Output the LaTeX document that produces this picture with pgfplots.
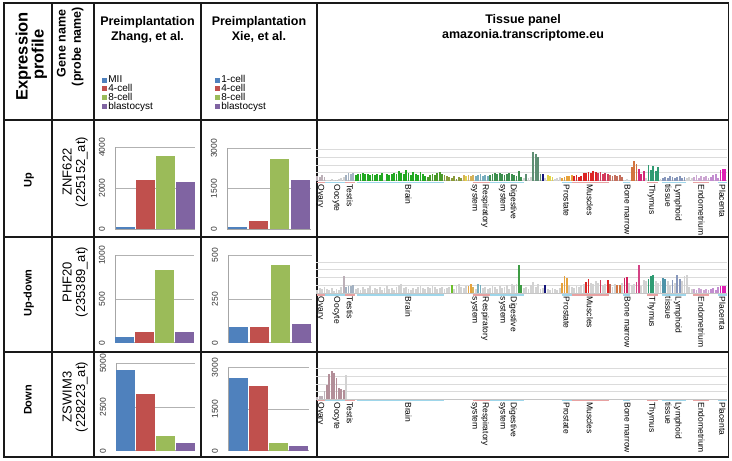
\documentclass[border=0pt]{standalone}
\usepackage{pgfplots}
\pgfplotsset{compat=1.18}
\usepackage{fontspec}
\setmainfont{Liberation Sans}

% bar chart colours (Excel 2007)
\definecolor{zblue}{HTML}{4F81BD}
\definecolor{zred}{HTML}{C0504D}
\definecolor{zgreen}{HTML}{9BBB59}
\definecolor{zpurple}{HTML}{8064A2}
% tissue panel colours
\definecolor{mv}{HTML}{BCB0B8}
\definecolor{lg}{HTML}{D2D2D2}
\definecolor{gb}{HTML}{A4B2C2}
\definecolor{tgreen}{HTML}{22A822}
\definecolor{dgreen}{HTML}{4A9A2A}
\definecolor{olive}{HTML}{8A9A3A}
\definecolor{tan}{HTML}{D6B25A}
\definecolor{tyellow}{HTML}{E2D44A}
\definecolor{teal}{HTML}{78AEBE}
\definecolor{dig}{HTML}{3D8F4E}
\definecolor{sea}{HTML}{5F8F74}
\definecolor{navy}{HTML}{14147A}
\definecolor{orng}{HTML}{E6A23C}
\definecolor{tred}{HTML}{DC2424}
\definecolor{crimson}{HTML}{D23A5A}
\definecolor{brown}{HTML}{C5705E}
\definecolor{obrown}{HTML}{D2743F}
\definecolor{mag}{HTML}{D42A78}
\definecolor{thymus}{HTML}{2F9B72}
\definecolor{lymph}{HTML}{8797BB}
\definecolor{endo}{HTML}{CCA6D2}
\definecolor{lav}{HTML}{C28DD0}
\definecolor{plac}{HTML}{DE1FB4}
\definecolor{lgreen}{HTML}{6CBF2A}
\definecolor{dgtwo}{HTML}{3E9C44}
\definecolor{magtwo}{HTML}{D2205E}
\definecolor{pink}{HTML}{D44385}
\definecolor{tealblue}{HTML}{4E93A8}
\definecolor{oc}{HTML}{B38F99}
\definecolor{tpk}{HTML}{E8A2A2}
\definecolor{tbl}{HTML}{9ED6EA}

\newcommand\hdr{\fontsize{12.5}{14}\selectfont\bfseries}
\newcommand\expf{\fontsize{16.5}{18}\selectfont\bfseries}
\newcommand\rowf{\fontsize{11}{13}\selectfont\bfseries}
\newcommand\genef{\fontsize{13}{15}\selectfont}
\newcommand\tlf{\fontsize{8.5}{10.3}\selectfont}
\newcommand\lgf{\fontsize{10}{11}\selectfont}
\newcommand\tkf{\fontsize{8.5}{9}\selectfont}

\pgfplotsset{
  small/.style={scale only axis, anchor=south west, ybar,
    xmin=-0.5, xmax=3.5, ymin=0, enlargelimits=false, xtick=\empty,
    axis lines*=left, axis line style={gray!70, line width=0.7pt},
    ymajorgrids, major grid style={gray!60, line width=0.7pt},
    major tick length=0pt,
    yticklabel style={rotate=90, anchor=south, font=\tkf, text=black!80, inner ysep=10pt, outer sep=0pt},
    /pgf/number format/assume math mode=true,
    /pgf/number format/1000 sep={}},
  sb/.style={fill=#1, draw=none, bar width=0.95, bar shift=0pt},
  tissue/.style={scale only axis, anchor=south west, width=411pt, height=31pt,
    xmin=-0.55, xmax=170.7, ymin=0, ymax=31, enlargelimits=false,
    xtick=\empty, ytick={7.75,15.5,23.25,31}, yticklabels={},
    ymajorgrids, major grid style={gray!28, line width=0.6pt},
    axis lines*=left, x axis line style={gray!45, line width=0.5pt},
    y axis line style={draw=none}, major tick length=0pt},
  tb/.style={ycomb, line width=1.75pt, color=#1},
  lgd/.style={scale only axis, anchor=north west, width=5pt, height=5pt, hide axis,
    xmin=0, xmax=1, ymin=0, ymax=1,
    legend style={at={(0,1)}, anchor=north west, draw=none, fill=none,
      inner sep=0pt, outer sep=0pt, font=\lgf, column sep=1.4pt,
      nodes={inner sep=0pt, text height=6.6pt, text depth=2.2pt}},
    legend cell align=left,
    legend image code/.code={\fill[##1] (0pt,-2.1pt) rectangle (5pt,2.9pt);}},
}

\tikzset{tl/.style={rotate=-90, anchor=west, inner sep=0.5pt, font=\tlf, align=left}}

\newcommand\tlabels[1]{%
\begin{scope}[shift={(0,#1)}]
  \draw[tpk, line width=1.4pt] (316.5,0) -- (325,0);
  \draw[tbl, line width=1.4pt] (325,0) -- (345,0);
  \draw[tpk, line width=1.4pt] (345,0) -- (355,0);
  \draw[tbl, line width=1.4pt] (356.5,0) -- (443.5,0);
  \draw[tpk, line width=1.4pt] (472.5,0) -- (490,0);
  \draw[tbl, line width=1.4pt] (490,0) -- (523.5,0);
  \draw[tbl, line width=1.4pt] (561.5,0) -- (571.5,0);
  \draw[tpk, line width=1.4pt] (571.5,0) -- (608.5,0);
  \draw[tbl, line width=1.4pt] (623,0) -- (630,0);
  \draw[tpk, line width=1.4pt] (647,0) -- (658,0);
  \draw[tbl, line width=1.4pt] (661.5,0) -- (686,0);
  \draw[tpk, line width=1.4pt] (693,0) -- (708.5,0);
  \draw[tbl, line width=1.4pt] (718,0) -- (727,0);
  \node[tl] at (320.5,1.2) {Ovary};
  \node[tl] at (336.5,1.2) {Oocyte};
  \node[tl] at (350,1.2) {Testis};
  \node[tl] at (408.5,1.2) {Brain};
  \node[tl] at (480,1.2) {Respiratory\\system};
  \node[tl] at (508,1.2) {Digestive\\system};
  \node[tl] at (566.5,1.2) {Prostate};
  \node[tl] at (590,1.2) {Muscles};
  \node[tl] at (627.5,1.2) {Bone marrow};
  \node[tl] at (651.5,1.2) {Thymus};
  \node[tl] at (673.5,1.2) {Lymphoid\\tissue};
  \node[tl] at (701.5,1.2) {Endometrium};
  \node[tl] at (722.5,1.2) {Placenta};
\end{scope}}

\begin{document}
\begin{tikzpicture}
\begin{scope}[x=1pt, y=-1pt]
  \path[use as bounding box] (0,0) rectangle (732,461);
  % table grid
  \draw[black!90, line width=1.2pt] (4,3) rectangle (728.5,457);
  \foreach \xx in {52,94,201,317} \draw[black!90, line width=1.2pt] (\xx,3) -- (\xx,457);
  \foreach \yy in {120,237,352} \draw[black!90, line width=1.2pt] (4,\yy) -- (728.5,\yy);
  % header
  \node[rotate=90, anchor=base, font=\expf] at (27.5,56.5) {Expression};
  \node[rotate=90, anchor=base, font=\expf] at (43.5,54.5) {profile};
  \node[rotate=90, anchor=base, font=\hdr] at (65.7,43.5) {Gene name};
  \node[rotate=90, anchor=base, font=\hdr] at (80.8,46.5) {(probe name)};
  \node[anchor=base, font=\hdr] at (147.5,25.5) {Preimplantation};
  \node[anchor=base, font=\hdr] at (147.5,40) {Zhang, et al.};
  \node[anchor=base, font=\hdr] at (259,25.5) {Preimplantation};
  \node[anchor=base, font=\hdr] at (259,40) {Xie, et al.};
  \node[anchor=base, font=\hdr] at (523,23.3) {Tissue panel};
  \node[anchor=base, font=\hdr] at (523,38.3) {amazonia.transcriptome.eu};
  % row labels
  \node[rotate=90, anchor=base, font=\rowf] at (31.5,180) {Up};
  \node[rotate=90, anchor=base, font=\rowf] at (31.5,293) {Up-down};
  \node[rotate=90, anchor=base, font=\rowf] at (31.5,400) {Down};
  \node[rotate=90, anchor=base, font=\genef] at (71.5,172) {ZNF622};
  \node[rotate=90, anchor=base, font=\genef] at (85,172) {(225152\_at)};
  \node[rotate=90, anchor=base, font=\genef] at (71.5,282) {PHF20};
  \node[rotate=90, anchor=base, font=\genef] at (85,282) {(235389\_at)};
  \node[rotate=90, anchor=base, font=\genef] at (71.5,397) {ZSWIM3};
  \node[rotate=90, anchor=base, font=\genef] at (85,397) {(228223\_at)};
  % tissue group labels
  \tlabels{182.7}
  \tlabels{295}
  \tlabels{400.5}
\end{scope}

% legends
\begin{axis}[lgd, at={(102pt,-76pt)}]
  \addlegendimage{fill=zblue, draw=none}\addlegendentry{MII}
  \addlegendimage{fill=zred, draw=none}\addlegendentry{4-cell}
  \addlegendimage{fill=zgreen, draw=none}\addlegendentry{8-cell}
  \addlegendimage{fill=zpurple, draw=none}\addlegendentry{blastocyst}
\end{axis}
\begin{axis}[lgd, at={(215pt,-76pt)}]
  \addlegendimage{fill=zblue, draw=none}\addlegendentry{1-cell}
  \addlegendimage{fill=zred, draw=none}\addlegendentry{4-cell}
  \addlegendimage{fill=zgreen, draw=none}\addlegendentry{8-cell}
  \addlegendimage{fill=zpurple, draw=none}\addlegendentry{blastocyst}
\end{axis}

% ---- Zhang et al.
\begin{axis}[small, at={(115pt,-229pt)}, width=80pt, height=81.7pt, ymax=4000, ytick={0,2000,4000}]
  \addplot[sb=zblue] coordinates {(0,120)};
  \addplot[sb=zred] coordinates {(1,2400)};
  \addplot[sb=zgreen] coordinates {(2,3550)};
  \addplot[sb=zpurple] coordinates {(3,2280)};
\end{axis}
\begin{axis}[small, at={(115pt,-342.7pt)}, width=79pt, height=87.4pt, ymax=1000, ytick={0,500,1000}]
  \addplot[sb=zblue] coordinates {(0,70)};
  \addplot[sb=zred] coordinates {(1,122)};
  \addplot[sb=zgreen] coordinates {(2,832)};
  \addplot[sb=zpurple] coordinates {(3,122)};
\end{axis}
\begin{axis}[small, at={(116pt,-450.7pt)}, width=79pt, height=87.4pt, ymax=5000, ytick={0,2500,5000}]
  \addplot[sb=zblue] coordinates {(0,4625)};
  \addplot[sb=zred] coordinates {(1,3260)};
  \addplot[sb=zgreen] coordinates {(2,835)};
  \addplot[sb=zpurple] coordinates {(3,420)};
\end{axis}

% ---- Xie et al.
\begin{axis}[small, at={(227pt,-229pt)}, width=84pt, height=80.7pt, ymax=3000, ytick={0,1500,3000}]
  \addplot[sb=zblue] coordinates {(0,85)};
  \addplot[sb=zred] coordinates {(1,300)};
  \addplot[sb=zgreen] coordinates {(2,2600)};
  \addplot[sb=zpurple] coordinates {(3,1815)};
\end{axis}
\begin{axis}[small, at={(228pt,-342.7pt)}, width=84pt, height=87.4pt, ymax=500, ytick={0,250,500}]
  \addplot[sb=zblue] coordinates {(0,91)};
  \addplot[sb=zred] coordinates {(1,91)};
  \addplot[sb=zgreen] coordinates {(2,443)};
  \addplot[sb=zpurple] coordinates {(3,105)};
\end{axis}
\begin{axis}[small, at={(228pt,-450.7pt)}, width=81pt, height=83pt, ymax=3000, ytick={0,1500,3000}]
  \addplot[sb=zblue] coordinates {(0,2625)};
  \addplot[sb=zred] coordinates {(1,2340)};
  \addplot[sb=zgreen] coordinates {(2,266)};
  \addplot[sb=zpurple] coordinates {(3,170)};
\end{axis}

% ---- tissue panel, ZNF622
\begin{axis}[tissue, at={(316pt,-180.5pt)}]
  \addplot[tb=mv] coordinates {(0,5)(1,4)(2,6)(3,4)};
  \addplot[tb=lg] coordinates {(4,1)(5,1)(6,2)(7,1)(8,1)(9,2)(10,3)(11,4)(86,3)(88,3)(89,4)(95,3)(99,2)(100,3)(101,4)(128,1)(129,2)(130,1)(137,3)(143,2)(154,3)(155,4)(156,3)};
  \addplot[tb=gb] coordinates {(12,6)(13,8)(14,7)(15,8)};
  \addplot[tb=tgreen] coordinates {(16,6)(17,7)(18,7)(19,8)(20,7)(21,7)(22,6)(23,7)(24,6)(25,7)(26,6)(27,8)(29,7)(30,6)(31,7)(32,8)(33,7)(34,10)(35,8)(36,7)(37,11)(38,8)(39,6)(40,9)(41,7)(42,6)(43,9)(44,7)(45,5)};
  \addplot[tb=dgreen] coordinates {(46,4)(47,6)(48,7)(49,6)(50,8)(51,9)(52,7)};
  \addplot[tb=olive] coordinates {(53,6)(54,5)(55,4)(56,3)(57,5)(58,2)(59,4)(60,3)};
  \addplot[tb=tan] coordinates {(61,6)(63,6)(64,5)(65,6)};
  \addplot[tb=tyellow] coordinates {(62,5)(96,6)(97,5)(98,4)};
  \addplot[tb=teal] coordinates {(66,5)(67,6)(68,7)(69,5)(70,6)(71,5)};
  \addplot[tb=dig] coordinates {(72,6)(73,7)(74,8)(75,7)(76,8)(77,7)(78,6)(79,7)(80,8)(81,7)(82,6)(83,5)(84,10)(85,4)};
  \addplot[tb=sea] coordinates {(87,7)(90,29)(91,27)(92,24)(93,7)};
  \addplot[tb=navy] coordinates {(94,7)};
  \addplot[tb=orng] coordinates {(102,3)(103,4)(104,5)(105,5)(106,6)};
  \addplot[tb=tred] coordinates {(107,5)(108,6)(109,4)(110,5)(111,8)(112,8)(113,9)(114,8)(115,10)(116,9)};
  \addplot[tb=crimson] coordinates {(117,8)(118,9)(119,7)(120,8)(121,7)};
  \addplot[tb=brown] coordinates {(122,6)(123,5)(124,6)(125,5)(126,6)(127,4)};
  \addplot[tb=obrown] coordinates {(131,14)(132,20)(133,17)};
  \addplot[tb=mag] coordinates {(134,12)(135,7)(136,10)};
  \addplot[tb=thymus] coordinates {(138,16)(139,11)(140,15)(141,10)(142,14)};
  \addplot[tb=lymph] coordinates {(144,3)(145,4)(146,3)(147,5)(148,4)(149,3)(150,4)(151,5)(152,3)(153,4)};
  \addplot[tb=endo] coordinates {(157,4)(158,6)(159,3)(160,5)(161,4)(162,5)(163,3)};
  \addplot[tb=lav] coordinates {(164,4)(165,6)(166,7)(167,3)};
  \addplot[tb=plac] coordinates {(168,11)(169,12)(170,12)};
\end{axis}

% ---- tissue panel, PHF20
\begin{axis}[tissue, at={(316pt,-293pt)}]
  \addplot[tb=lg] coordinates {(0,3)(1,5)(2,4)(3,6)(4,4)(5,3)(6,5)(7,2)(8,4)(9,3)(10,6)
    (16,4)(17,5)(18,3)(19,6)(20,4)(21,5)(22,7)(23,3)(24,5)(25,4)(26,6)(27,3)(28,5)(29,7)(30,4)(31,5)(32,3)(33,6)(34,8)(35,9)(36,5)(37,6)(38,4)(39,3)(40,5)(41,4)(42,6)(43,7)(44,5)(45,4)(46,6)(47,5)(48,7)(49,6)(50,4)(51,5)(52,6)
    (53,4)(54,5)(55,6)(57,4)(58,7)(59,9)(60,6)(61,5)(62,7)(66,4)(69,5)(70,6)(71,4)(72,5)(73,7)(74,6)(75,4)(76,7)(77,5)(78,6)(79,8)(80,4)(81,9)(82,8)(83,9)
    (86,5)(87,6)(88,4)(89,8)(90,11)(91,6)(92,9)(93,4)(94,5)(96,4)(97,3)(98,5)(99,4)(100,3)(101,5)(105,8)(106,6)(107,5)(108,7)(109,6)(110,8)(111,9)
    (114,10)(115,9)(116,12)(117,10)(119,8)(120,9)(123,6)(124,9)(127,10)(130,10)(131,8)(132,9)(135,7)(136,13)(137,12)(141,12)(142,10)(143,12)
    (146,12)(147,8)(149,10)(152,12)(153,17)(154,18)(155,6)(156,4)};
  \addplot[tb=mv] coordinates {(11,17)};
  \addplot[tb=gb] coordinates {(12,6)(13,7)(14,7)(15,8)};
  \addplot[tb=lgreen] coordinates {(56,8)};
  \addplot[tb=orng] coordinates {(63,7)(64,9)(102,10)(103,17)(104,15)};
  \addplot[tb=tan] coordinates {(65,6)};
  \addplot[tb=teal] coordinates {(67,9)(68,8)};
  \addplot[tb=dgtwo] coordinates {(84,28)(85,8)};
  \addplot[tb=navy] coordinates {(95,8)};
  \addplot[tb=tred] coordinates {(112,11)(113,14)(121,13)};
  \addplot[tb=crimson] coordinates {(118,13)};
  \addplot[tb=brown] coordinates {(122,9)};
  \addplot[tb=obrown] coordinates {(125,8)(126,8)};
  \addplot[tb=magtwo] coordinates {(128,15)(129,16)};
  \addplot[tb=pink] coordinates {(133,11)(134,28)};
  \addplot[tb=thymus] coordinates {(138,14)(139,17)(140,18)};
  \addplot[tb=tealblue] coordinates {(144,15)(145,14)};
  \addplot[tb=lymph] coordinates {(148,13)(150,18)(151,14)};
  \addplot[tb=endo] coordinates {(157,4)(158,3)(159,5)(160,4)(161,3)(162,4)(163,3)};
  \addplot[tb=lav] coordinates {(164,4)(165,5)(166,3)(167,6)};
  \addplot[tb=plac] coordinates {(168,7)(169,7)(170,7)};
\end{axis}

% ---- tissue panel, ZSWIM3
\begin{axis}[tissue, at={(316pt,-399.3pt)}]
  \addplot[tb=mv] coordinates {(0,2)(1,3)(2,3)(3,8)};
  \addplot[tb=oc] coordinates {(4,14)(5,25)(6,28)(7,26)(8,21)(9,11)(10,10)(11,9)};
  \addplot[tb=lg] coordinates {(12,24)};
\end{axis}
\end{tikzpicture}
\end{document}
